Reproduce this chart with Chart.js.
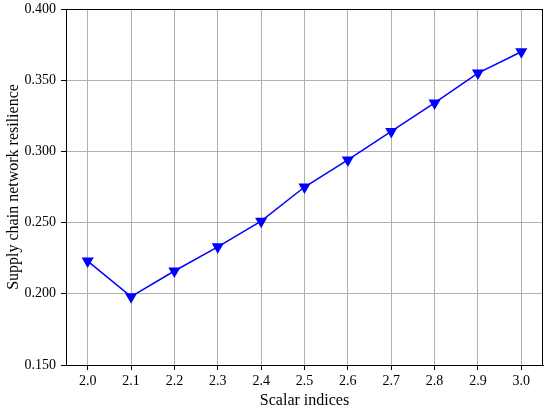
<!DOCTYPE html>
<html>
<head>
<meta charset="utf-8">
<script src="https://cdn.jsdelivr.net/npm/chart.js@4/dist/chart.umd.min.js"></script>
<style>
  html, body { margin: 0; padding: 0; background: #fff; }
  #wrap { width: 550px; height: 410px; }
</style>
</head>
<body>
<div id="wrap"><canvas id="lineChart" width="550" height="410"></canvas></div>
<script>
// data
const scalarIndices = [2.0, 2.1, 2.2, 2.3, 2.4, 2.5, 2.6, 2.7, 2.8, 2.9, 3.0];
const resilience = [0.223, 0.198, 0.216, 0.233, 0.251, 0.275, 0.294, 0.314, 0.334, 0.355, 0.370];
const yTicks = [0.150, 0.200, 0.250, 0.300, 0.350, 0.400];

const fontFamily = '"Liberation Serif", "Times New Roman", serif';

// draws the black frame on all four sides
const frameBox = {
    id: 'frameBox',
    afterDraw(chart) {
        const a = chart.chartArea;
        const ctx = chart.ctx;
        ctx.save();
        ctx.strokeStyle = '#000';
        ctx.lineWidth = 1;
        ctx.strokeRect(a.left + 0.5, a.top + 0.5, a.right - a.left - 1, a.bottom - a.top);
        ctx.restore();
    }
};

const ctx = document.getElementById('lineChart').getContext('2d');
new Chart(ctx, {
    type: 'line',
    data: {
        datasets: [{
            label: 'resilience',
            data: scalarIndices.map((x, i) => ({ x: x, y: resilience[i] })),
            borderColor: '#0000ff',
            backgroundColor: '#0000ff',
            borderWidth: 1.5,
            pointStyle: 'triangle',
            rotation: 180,
            pointRadius: 5.5,
            pointHoverRadius: 5.5,
            tension: 0
        }]
    },
    options: {
        responsive: false,
        animation: false,
        layout: { padding: { left: 0, top: 9, right: 6, bottom: 0 } },
        plugins: {
            legend: { display: false },
            tooltip: { enabled: false }
        },
        scales: {
            x: {
                type: 'linear',
                min: 1.95,
                max: 3.05,
                afterBuildTicks: (s) => { s.ticks = scalarIndices.map(v => ({ value: v })); },
                afterFit: (s) => { s.height = 45; },
                ticks: {
                    color: '#000',
                    font: { family: fontFamily, size: 14 },
                    padding: 3,
                    maxRotation: 0,
                    callback: (v) => Number(v).toFixed(1)
                },
                grid: { color: '#b0b0b0', lineWidth: 1, tickColor: '#000', tickLength: 5 },
                border: { color: '#000', width: 1 },
                title: {
                    display: true,
                    text: 'Scalar indices',
                    color: '#000',
                    font: { family: fontFamily, size: 16 },
                    padding: { top: 0, bottom: 0 }
                }
            },
            y: {
                min: 0.15,
                max: 0.40,
                afterBuildTicks: (s) => { s.ticks = yTicks.map(v => ({ value: v })); },
                afterFit: (s) => { s.width = 66; s.paddingTop = 0; s.paddingBottom = 0; },
                ticks: {
                    color: '#000',
                    font: { family: fontFamily, size: 14 },
                    padding: 5,
                    callback: (v) => Number(v).toFixed(3)
                },
                grid: { color: '#b0b0b0', lineWidth: 1, tickColor: '#000', tickLength: 5 },
                border: { color: '#000', width: 1 },
                title: {
                    display: true,
                    text: 'Supply chain network resilience',
                    color: '#000',
                    font: { family: fontFamily, size: 16 },
                    padding: { top: 4.5, bottom: 2 }
                }
            }
        }
    },
    plugins: [frameBox]
});
</script>
</body>
</html>
